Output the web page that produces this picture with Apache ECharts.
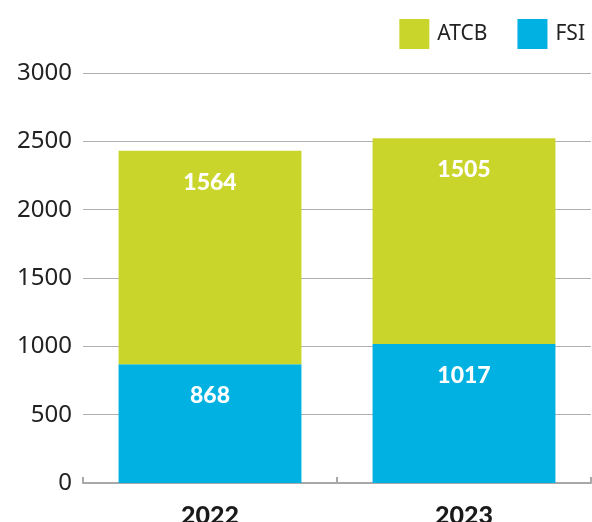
<!DOCTYPE html>
<html>
<head>
<meta charset="utf-8">
<script src="https://cdn.jsdelivr.net/npm/echarts@6/dist/echarts.min.js"></script>
<style>
  html, body { margin: 0; padding: 0; background: #fff; }
  #grafico { width: 592px; height: 522px; }
</style>
</head>
<body>
<div id="grafico"></div>
<script>
let years = ["2022", "2023"];
let fsiValues = [868, 1017];
let atcbValues = [1564, 1505];

let verde = "#cad52b";
let azul = "#00b1e1";

let etiqueta = {
    show: true,
    position: "insideTop",
    distance: 20,
    color: "#fff",
    fontFamily: "Lato",
    fontWeight: 900,
    fontSize: 23
};

var grafico = document.getElementById("grafico");
var myChart = echarts.init(grafico);
var options = {
    animation: false,
    legend: {
        right: 2,
        top: 14,
        itemWidth: 30,
        itemHeight: 30,
        itemGap: 30,
        icon: "rect",
        textStyle: { fontFamily: "Noto Sans", fontSize: 21, color: "#222", padding: [0, 0, 0, 3] },
        data: ["ATCB", "FSI"]
    },
    grid: { left: 83, right: 1, top: 73, bottom: 39, outerBoundsMode: "none", containLabel: false },
    xAxis: {
        type: "category",
        data: years,
        axisLine: { lineStyle: { color: "#a8a8a8", width: 2 } },
        axisTick: { show: true, inside: true, length: 6, lineStyle: { color: "#a8a8a8", width: 2 } },
        axisLabel: { margin: 20, color: "#1a1a1a", fontFamily: "Lato", fontWeight: 900, fontSize: 25 }
    },
    yAxis: {
        type: "value",
        min: 0,
        max: 3000,
        interval: 500,
        axisLine: { show: false },
        axisTick: { show: false },
        splitLine: { lineStyle: { color: "#b0b0b0", width: 1 } },
        axisLabel: {
            margin: 11, color: "#222", fontFamily: "Noto Sans", fontSize: 24,
            formatter: v => String(v)
        }
    },
    series: [
        {
            name: "FSI",
            type: "bar",
            stack: "total",
            barWidth: "72%",
            data: fsiValues,
            itemStyle: { color: azul },
            label: etiqueta
        },
        {
            name: "ATCB",
            type: "bar",
            stack: "total",
            barWidth: "72%",
            data: atcbValues,
            itemStyle: { color: verde },
            label: etiqueta
        }
    ]
};
myChart.setOption(options);
</script>
</body>
</html>
